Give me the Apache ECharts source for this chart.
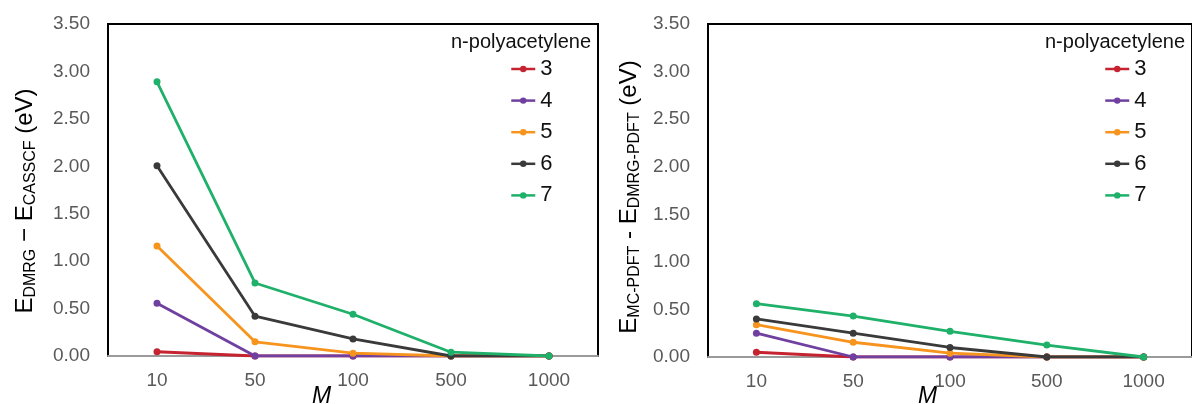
<!DOCTYPE html>
<html><head><meta charset="utf-8">
<script src="https://cdn.jsdelivr.net/npm/echarts@6/dist/echarts.min.js"></script>
<style>html,body{margin:0;padding:0;background:#fff}#c{width:1192px;height:404px}</style>
</head><body><div id="c"></div>
<script>
const categories = ['10', '50', '100', '500', '1000'];
const seriesNames = ['3', '4', '5', '6', '7'];
const seriesColors = ['#c62330', '#7040a0', '#f7941d', '#3a3a3a', '#1fb06a'];
// Left panel: E_DMRG - E_CASSCF (eV)
const left3 = [0.045, 0, 0, 0, 0];
const left4 = [0.555, 0, 0, 0, 0];
const left5 = [1.16, 0.15, 0.03, 0, 0];
const left6 = [2.005, 0.42, 0.18, 0, 0];
const left7 = [2.89, 0.77, 0.44, 0.04, 0];
// Right panel: E_MC-PDFT - E_DMRG-PDFT (eV)
const right3 = [0.05, 0, 0, 0, 0];
const right4 = [0.25, 0, 0, 0, 0];
const right5 = [0.34, 0.155, 0.04, 0, 0];
const right6 = [0.40, 0.25, 0.10, 0, 0];
const right7 = [0.56, 0.43, 0.27, 0.125, 0];
const yTicks = [0, 0.5, 1, 1.5, 2, 2.5, 3, 3.5];

const leftData = [left3, left4, left5, left6, left7];
const rightData = [right3, right4, right5, right6, right7];
const FONT = '"Liberation Sans", Arial, sans-serif';

function mkX(gi) {
  return {
    type: 'category', gridIndex: gi, data: categories, boundaryGap: true,
    axisLine: {show: true, lineStyle: {color: '#9a9a9a', width: 2}},
    axisTick: {show: false},
    axisLabel: {color: '#595959', fontSize: 19, fontFamily: FONT, margin: 15},
    splitLine: {show: false}
  };
}
function mkY(gi) {
  return {
    type: 'value', gridIndex: gi, min: yTicks[0], max: yTicks[yTicks.length - 1], interval: 0.5,
    axisLine: {show: true, lineStyle: {color: '#000', width: 2}},
    axisTick: {show: false},
    axisLabel: {color: '#595959', fontSize: 19, fontFamily: FONT, margin: 18,
      formatter: v => v.toFixed(2)},
    splitLine: {show: false}
  };
}
const series = [];
[leftData, rightData].forEach((arr, gi) => {
  arr.forEach((d, i) => {
    series.push({
      name: seriesNames[i], type: 'line', xAxisIndex: gi, yAxisIndex: gi,
      data: d, symbol: 'circle', symbolSize: 7,
      itemStyle: {color: seriesColors[i]},
      lineStyle: {color: seriesColors[i], width: 2.8},
      z: 2 + i
    });
  });
});
function mkLegend(left) {
  return {
    data: seriesNames, orient: 'vertical', left: left, top: 53,
    itemWidth: 24, itemHeight: 8, itemGap: 9.6,
    textStyle: {fontSize: 22, color: '#111', fontFamily: FONT, lineHeight: 20},
    lineStyle: {width: 2.5},
    selectedMode: false
  };
}
const nameStyle = {
  main: {fontSize: 24, fontFamily: FONT, color: '#000', lineHeight: 28},
  sub: {fontSize: 16, fontFamily: FONT, color: '#000', lineHeight: 21, verticalAlign: 'bottom'}
};
const chart = echarts.init(document.getElementById('c'));
chart.setOption({
  animation: false,
  grid: [
    {left: 108, top: 24, width: 490, height: 332, show: true, borderColor: '#000', borderWidth: 2, backgroundColor: 'transparent'},
    {left: 708, top: 24, width: 488, height: 333, show: true, borderColor: '#000', borderWidth: 2, backgroundColor: 'transparent'}
  ],
  xAxis: [mkX(0), mkX(1)],
  yAxis: [mkY(0), mkY(1)],
  legend: [mkLegend(505), mkLegend(1099)],
  series: series,
  graphic: [
    {type: 'text', left: 451, top: 32, style: {text: 'n-polyacetylene', fontSize: 20, fontFamily: FONT, fill: '#111'}},
    {type: 'text', left: 1045, top: 32, style: {text: 'n-polyacetylene', fontSize: 20, fontFamily: FONT, fill: '#111'}},
    {type: 'text', x: 312, y: 385, style: {text: 'M', fontSize: 23, fontStyle: 'italic', fontFamily: FONT, fill: '#000'}},
    {type: 'text', x: 918, y: 385, style: {text: 'M', fontSize: 23, fontStyle: 'italic', fontFamily: FONT, fill: '#000'}},
    {type: 'text', x: 25, y: 201, rotation: Math.PI / 2,
      style: {text: '{main|E}{sub|DMRG}{main| − E}{sub|CASSCF}{main| (eV)}', rich: nameStyle, align: 'center', verticalAlign: 'middle'}},
    {type: 'text', x: 629, y: 197, rotation: Math.PI / 2,
      style: {text: '{main|E}{sub|MC-PDFT}{main| - E}{sub|DMRG-PDFT}{main| (eV)}', rich: nameStyle, align: 'center', verticalAlign: 'middle'}}
  ]
});
</script></body></html>
